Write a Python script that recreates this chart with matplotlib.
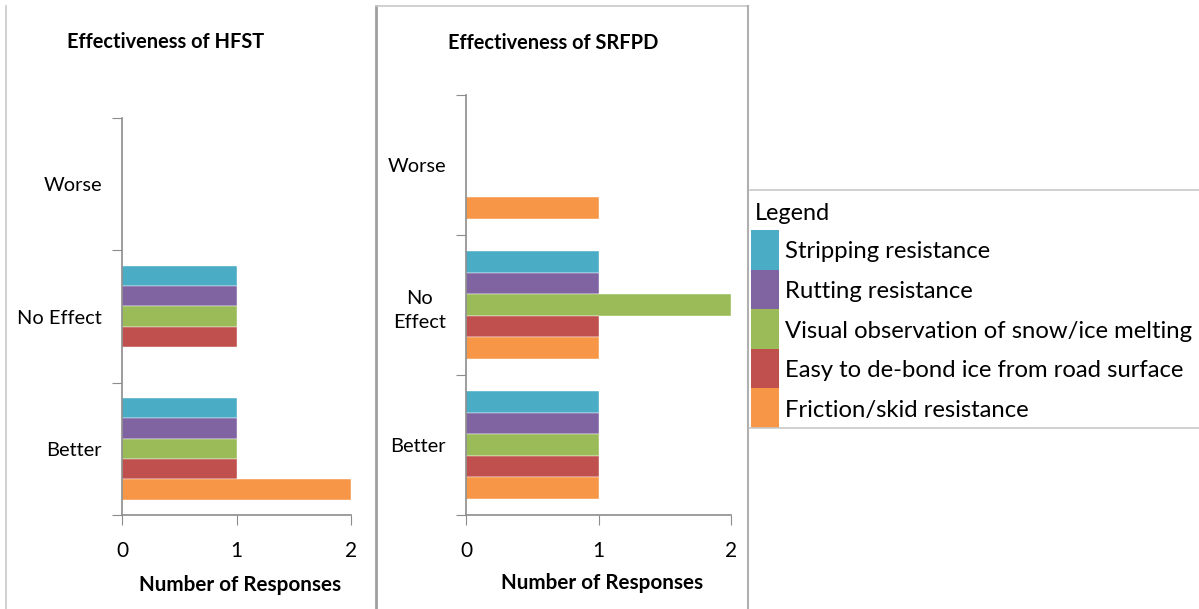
import matplotlib
matplotlib.use("Agg")
import matplotlib.pyplot as plt
import numpy as np
from matplotlib.lines import Line2D
from matplotlib.patches import Rectangle

plt.rcParams["font.family"] = ["Lato", "DejaVu Sans"]

# data
categories = ["Better", "No Effect", "Worse"]
series_names = ["Stripping resistance", "Rutting resistance",
                "Visual observation of snow/ice melting",
                "Easy to de-bond ice from road surface",
                "Friction/skid resistance"]
series_colors = ["#4BACC6", "#8064A2", "#9BBB59", "#C0504D", "#F79646"]

# values per series, ordered Better, No Effect, Worse
hfst_stripping = [1, 1, 0]
hfst_rutting = [1, 1, 0]
hfst_visual = [1, 1, 0]
hfst_debond = [1, 1, 0]
hfst_friction = [2, 0, 0]

srfpd_stripping = [1, 1, 0]
srfpd_rutting = [1, 1, 0]
srfpd_visual = [1, 2, 0]
srfpd_debond = [1, 1, 0]
srfpd_friction = [1, 1, 1]

hfst = [hfst_stripping, hfst_rutting, hfst_visual, hfst_debond, hfst_friction]
srfpd = [srfpd_stripping, srfpd_rutting, srfpd_visual, srfpd_debond, srfpd_friction]

W, H = 1199, 609
fig = plt.figure(figsize=(W / 100, H / 100), dpi=100)
AXIS_GRAY = "#8c8c8c"


def px_axes(x0, y0, x1, y1):
    # pixel box (top-left origin) -> figure axes
    return fig.add_axes([x0 / W, 1 - y1 / H, (x1 - x0) / W, (y1 - y0) / H])


def draw_panel(ax, data, title, cat_labels, title_xy, xlabel_xy):
    h = 1 / 6.5
    y = np.arange(len(categories)) + 0.5
    for i, (vals, col) in enumerate(zip(data, series_colors)):
        ax.barh(y + (2 - i) * h, vals, height=h, color=col,
                edgecolor="white", linewidth=0.3)
    ax.set_xlim(0, 2)
    ax.set_ylim(0, 3)
    for s in ["top", "right"]:
        ax.spines[s].set_visible(False)
    for s in ["left", "bottom"]:
        ax.spines[s].set_color(AXIS_GRAY)
        ax.spines[s].set_linewidth(1.2)
    ax.set_xticks([0, 1, 2])
    ax.set_xticklabels(["0", "1", "2"], fontsize=15)
    ax.tick_params(axis="x", length=7, color=AXIS_GRAY, pad=12)
    ax.set_yticks([0, 1, 2, 3])
    ax.set_yticklabels([])
    ax.tick_params(axis="y", which="major", length=7, color=AXIS_GRAY)
    ax.set_yticks(y, minor=True)
    ax.set_yticklabels(cat_labels, minor=True, fontsize=14.4,
                       multialignment="center", linespacing=1.5)
    ax.tick_params(axis="y", which="minor", length=0, pad=14.5)
    fig.text(title_xy[0] / W, 1 - title_xy[1] / H, title, ha="center",
             va="center", fontsize=14.4, fontweight="bold")
    fig.text(xlabel_xy[0] / W, 1 - xlabel_xy[1] / H, "Number of Responses",
             ha="center", va="center", fontsize=14.9, fontweight="bold")


ax1 = px_axes(122, 118, 351, 515)
draw_panel(ax1, hfst, "Effectiveness of HFST", categories, (166, 42), (240, 585))

ax2 = px_axes(466, 95, 731, 515)
draw_panel(ax2, srfpd, "Effectiveness of SRFPD",
           ["Better", "No\nEffect", "Worse"], (553, 43), (602, 583))


def fig_line(xs, ys, color="#c8c8c8", lw=1.2):
    fig.add_artist(Line2D([x / W for x in xs], [1 - v / H for v in ys],
                          color=color, lw=lw, transform=fig.transFigure))


# panel borders
fig_line([6, 6], [6, 609])
fig_line([376, 376], [6, 609], color="#a0a0a0", lw=2)
fig_line([376, 748], [6, 6])
fig_line([748, 748], [6, 609], color="#b0b0b0", lw=1.5)

# legend box
fig_line([750, 1199], [190, 190])
fig_line([750, 1199], [428, 428])
fig.text(755 / W, 1 - 213 / H, "Legend", ha="left", va="center", fontsize=16.9)
for i, (name, col) in enumerate(zip(series_names, series_colors)):
    top = 230 + i * 39.6
    fig.add_artist(Rectangle((751 / W, 1 - (top + 39.6) / H), 28 / W, 39.6 / H,
                             color=col, transform=fig.transFigure, lw=0))
    fig.text(785 / W, 1 - (top + 22) / H, name, ha="left", va="center",
             fontsize=17.2)

fig.savefig("out.png", dpi=100)
